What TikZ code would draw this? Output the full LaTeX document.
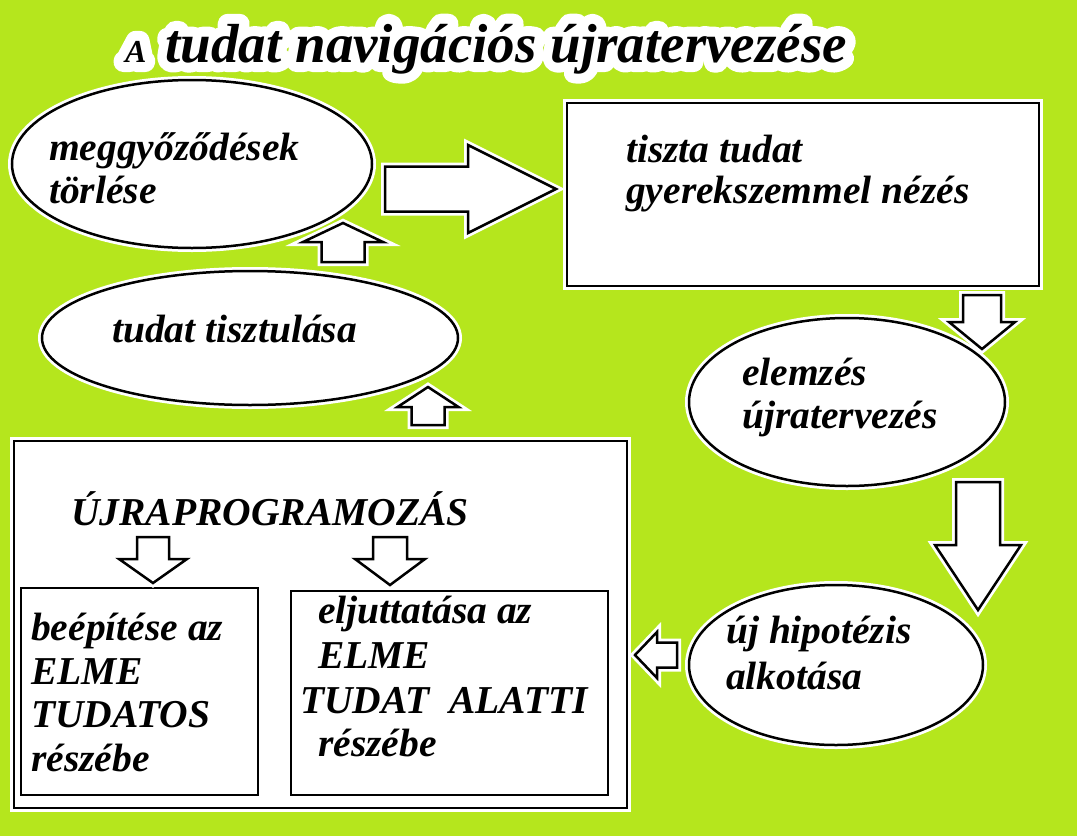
\documentclass[tikz,border=0pt]{standalone}
\usepackage{fontspec}
\setmainfont{Liberation Serif}
\usetikzlibrary{shapes.geometric,calc}
\definecolor{bg}{RGB}{181,230,29}
\newcommand\bodyfnt{\fontsize{39.5}{42}\selectfont\bfseries\itshape}
\newcommand\titlefnt{\fontsize{55}{57}\selectfont\bfseries\itshape}
\newcommand\titleA{\fontsize{32}{34}\selectfont\bfseries\itshape}
\newcommand\haloon{\special{pdf:literal direct 1 Tr 20 w 1 j 1 J}}
\tikzset{
  shp/.style={draw=black, line width=2.5pt, fill=white,
    preaction={draw=white, line width=8pt}},
  ell/.style={shp, ellipse, inner sep=0pt},
  box/.style={shp, rectangle, inner sep=0pt},
  txt/.style={anchor=base west, inner sep=0pt, font=\bodyfnt},
  arrowshape/.style={draw=black, line width=2.5pt, fill=white, line join=miter,
    preaction={draw=white, line width=8pt}},
  pics/barrow/.style n args={4}{code={
    \draw[arrowshape] (0,-#2) -- ({#1-#4},-#2) -- ({#1-#4},-#3) -- (#1,0)
      -- ({#1-#4},#3) -- ({#1-#4},#2) -- (0,#2) -- cycle;}}
}
\begin{document}
\begin{tikzpicture}[x=1pt,y=-1pt]
\fill[bg] (0,0) rectangle (1077,836);
\useasboundingbox (0,0) rectangle (1077,836);

% title with white halo (stroked copy)
\node[anchor=base west, inner sep=0pt, text=white] (halo) at (125,62)
    {\haloon\titleA A\hspace{19pt}\titlefnt tudat navigációs újratervezése};
\node[anchor=base west, inner sep=0pt] (title) at (125,62)
    {\titleA A\hspace{19pt}\titlefnt tudat navigációs újratervezése};

% shapes
\node[ell, minimum width=360pt, minimum height=168pt] (e1) at (192,164) {};
\node[box, minimum width=472pt, minimum height=183pt] (r1) at (803,194.5) {};
\node[ell, minimum width=316pt, minimum height=168pt] (e2) at (847,402) {};
\node[ell, minimum width=294pt, minimum height=160pt] (e3) at (836,665) {};
\node[ell, minimum width=416pt, minimum height=134pt] (e4) at (250,338) {};
\node[box, minimum width=613pt, minimum height=367pt] (R) at (320.5,624.5) {};
\node[box, minimum width=237pt, minimum height=207pt] (b1) at (139.5,691.5) {};
\node[box, minimum width=317pt, minimum height=204pt] (b2) at (449.5,693) {};

% texts
\node[txt] (t1a) at (49,160) {meggyőződések};
\node[txt] (t1b) at (49,203) {törlése};
\node[txt] (t2a) at (626,162) {tiszta tudat};
\node[txt] (t2b) at (626,203) {gyerekszemmel nézés};
\node[txt] (t3a) at (742,385) {elemzés};
\node[txt] (t3b) at (742,428) {újratervezés};
\node[txt] (t4a) at (726,643) {új hipotézis};
\node[txt] (t4b) at (726,689) {alkotása};
\node[txt] (t5) at (112,342) {tudat tisztulása};
\node[txt] (t6) at (71,525) {ÚJRAPROGRAMOZÁS};
\node[txt] (t7a) at (31,640) {beépítése az};
\node[txt] (t7b) at (31,684) {ELME};
\node[txt] (t7c) at (31,727) {TUDATOS};
\node[txt] (t7d) at (31,771) {részébe};
\node[txt] (t8a) at (318,623) {eljuttatása az};
\node[txt] (t8b) at (318,668) {ELME};
\node[txt] (t8c) at (300,713) {TUDAT\ \ ALATTI};
\node[txt] (t8d) at (318,756) {részébe};

% block arrows
\pic at (385,189) {barrow={171}{22.5}{44}{88}};
\pic[rotate=-90] at (982,295) {barrow={54}{19}{33}{27}};
\pic[rotate=-90] at (978,482) {barrow={128}{22}{43}{65}};
\pic[rotate=180] at (677,655) {barrow={42}{12.5}{23}{22}};
\pic[rotate=90] at (428,425) {barrow={38}{16.5}{30.5}{20}};
\pic[rotate=90] at (343,262) {barrow={39}{21.5}{40}{19}};
\pic[rotate=-90] at (153,537) {barrow={46}{16}{34}{24}};
\pic[rotate=-90] at (390,537) {barrow={48}{17}{35}{26}};
\end{tikzpicture}
\end{document}
